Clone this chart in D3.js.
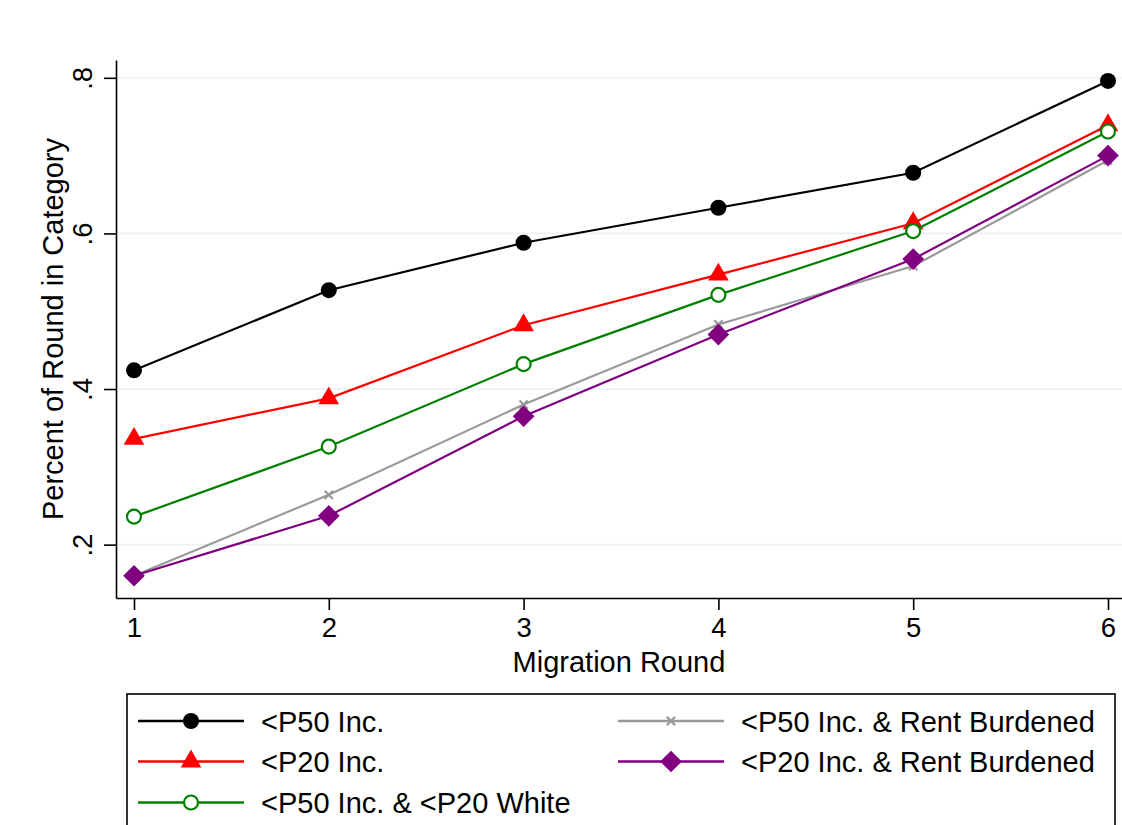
<!DOCTYPE html>
<html>
<head>
<meta charset="utf-8">
<script src="https://cdn.jsdelivr.net/npm/d3@7"></script>
<style>
  html, body { margin: 0; padding: 0; background: #fff; }
  svg { display: block; }
  text { font-family: "Liberation Sans", Arial, sans-serif; fill: #000; }
</style>
</head>
<body>
<svg id="chart" width="1122" height="825"></svg>
<script>
const rounds = [1, 2, 3, 4, 5, 6];
const seriesNames = [
  "<P50 Inc.",
  "<P20 Inc.",
  "<P50 Inc. & <P20 White",
  "<P50 Inc. & Rent Burdened",
  "<P20 Inc. & Rent Burdened"
];
const p50Inc = [0.424, 0.527, 0.588, 0.633, 0.678, 0.796];
const p20Inc = [0.336, 0.388, 0.482, 0.547, 0.613, 0.739];
const p50IncP20White = [0.236, 0.326, 0.432, 0.521, 0.603, 0.731];
const p50IncRent = [0.160, 0.264, 0.380, 0.483, 0.558, 0.694];
const p20IncRent = [0.160, 0.237, 0.365, 0.470, 0.567, 0.700];
const yTicks = [0.2, 0.4, 0.6, 0.8];
const xTitle = "Migration Round";
const yTitle = "Percent of Round in Category";

const seriesValues = [p50Inc, p20Inc, p50IncP20White, p50IncRent, p20IncRent];
const colors = ["#000000", "#ff0000", "#008000", "#999999", "#800080"];
const markers = ["circle", "triangle", "hollowCircle", "x", "diamond"];

const svg = d3.select("#chart");
const W = 1122, H = 825;
svg.append("rect").attr("width", W).attr("height", H).attr("fill", "#fff");

const x = d3.scaleLinear().domain([0.9076, 6.0719]).range([116, 1122]);
const y = d3.scaleLinear().domain([0.1314, 0.8229]).range([598, 60]);

// grid
svg.append("g").selectAll("line").data(yTicks).join("line")
  .attr("x1", x.range()[0]).attr("x2", x.range()[1])
  .attr("y1", d => y(d)).attr("y2", d => y(d))
  .attr("stroke", "#eaf2f3").attr("stroke-width", 1.6);

// y axis
const yAxis = svg.append("g").attr("transform", `translate(${x.range()[0]},0)`)
  .call(d3.axisLeft(y).tickValues(yTicks).tickSize(12).tickSizeOuter(0)
    .tickFormat(d => d3.format(".1f")(d).replace(/^0/, "")));
yAxis.select(".domain").attr("stroke", "#000").attr("stroke-width", 1.6);
yAxis.selectAll(".tick line").attr("stroke", "#000").attr("stroke-width", 1.6);
yAxis.selectAll(".tick text")
  .attr("font-size", 27.5).attr("font-family", "Liberation Sans, Arial, sans-serif")
  .attr("fill", "#000")
  .attr("transform", "rotate(-90)")
  .attr("x", 0).attr("y", -24).attr("dy", 0)
  .attr("text-anchor", "middle");

// x axis
const xAxis = svg.append("g").attr("transform", `translate(0,${y.range()[0]})`)
  .call(d3.axisBottom(x).tickValues(rounds).tickSize(12).tickSizeOuter(0)
    .tickFormat(d3.format("d")));
xAxis.select(".domain").attr("stroke", "#000").attr("stroke-width", 1.6);
xAxis.selectAll(".tick line").attr("stroke", "#000").attr("stroke-width", 1.6);
xAxis.selectAll(".tick text")
  .attr("font-size", 27.5).attr("font-family", "Liberation Sans, Arial, sans-serif")
  .attr("fill", "#000").attr("y", 39).attr("dy", 0);

// titles
svg.append("text").attr("x", (x.range()[0] + x.range()[1]) / 2).attr("y", 672)
  .attr("text-anchor", "middle").attr("font-size", 29).text(xTitle);
svg.append("text")
  .attr("transform", `translate(63,${(y.range()[0] + y.range()[1]) / 2}) rotate(-90)`)
  .attr("text-anchor", "middle").attr("font-size", 29).text(yTitle);

// markers
function drawMarker(g, type, color) {
  if (type === "circle") {
    g.append("path").attr("d", d3.symbol(d3.symbolCircle, 201)())
      .attr("fill", color);
  } else if (type === "hollowCircle") {
    g.append("circle").attr("r", 7).attr("fill", "#fff")
      .attr("stroke", color).attr("stroke-width", 2.2);
  } else if (type === "triangle") {
    g.append("path").attr("d", d3.symbol(d3.symbolTriangle, 185)())
      .attr("fill", color);
  } else if (type === "diamond") {
    g.append("path").attr("d", d3.symbol(d3.symbolSquare, 235)())
      .attr("transform", "rotate(45)").attr("fill", color);
  } else if (type === "x") {
    const sx = d3.symbolX || d3.symbolCross;
    g.append("path").attr("d", d3.symbol(sx, 46)())
      .attr("transform", d3.symbolX ? null : "rotate(45)")
      .attr("fill", "none").attr("stroke", color).attr("stroke-width", 2.2);
  }
}

const line = d3.line().x((d, i) => x(rounds[i])).y(d => y(d));

seriesValues.forEach((vals, si) => {
  const g = svg.append("g");
  g.append("path").datum(vals).attr("d", line)
    .attr("fill", "none").attr("stroke", colors[si]).attr("stroke-width", 2.2);
  vals.forEach((v, i) => {
    const mg = g.append("g").attr("transform", `translate(${x(rounds[i])},${y(v)})`);
    drawMarker(mg, markers[si], colors[si]);
  });
});

// legend
const legend = svg.append("g");
legend.append("rect").attr("x", 127).attr("y", 694).attr("width", 988).attr("height", 160)
  .attr("fill", "#fff").attr("stroke", "#000").attr("stroke-width", 1.6);
const legendPos = [
  [0, 0], [0, 1], [0, 2], [1, 0], [1, 1]
];
const colX = [138, 618];
const rowY = [721, 761.5, 802.5];
seriesNames.forEach((name, si) => {
  const [c, r] = legendPos[si];
  const g = legend.append("g").attr("transform", `translate(${colX[c]},${rowY[r]})`);
  g.append("line").attr("x1", 0).attr("x2", 106).attr("y1", 0).attr("y2", 0)
    .attr("stroke", colors[si]).attr("stroke-width", 2.4);
  const mg = g.append("g").attr("transform", "translate(53,0)");
  drawMarker(mg, markers[si], colors[si]);
  g.append("text").attr("x", 123).attr("y", 10.5).attr("font-size", 29).text(name);
});
</script>
</body>
</html>
